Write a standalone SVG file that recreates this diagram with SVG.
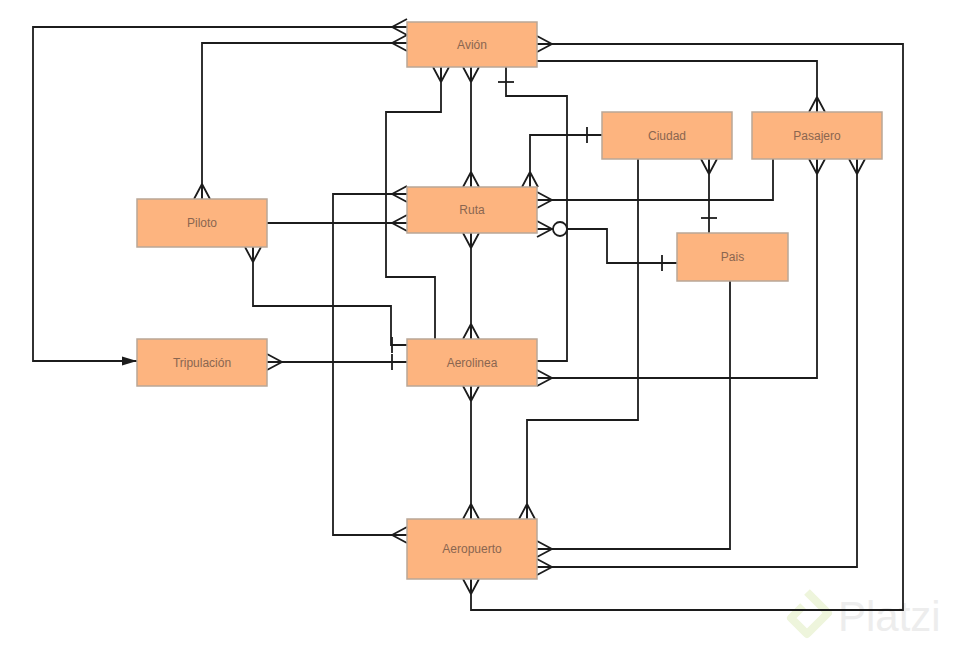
<svg xmlns="http://www.w3.org/2000/svg" width="953" height="648" viewBox="0 0 953 648">
<style>
.n rect{fill:#fdb47f;stroke:#b9a797;stroke-width:1.5}
.n text{font-family:"Liberation Sans",Arial,sans-serif;font-size:12px;fill:#8a6650;text-anchor:middle;dominant-baseline:central}
.c path{fill:none;stroke:#1c1c1c;stroke-width:1.8;stroke-linejoin:miter}
</style>
<defs>
<marker id="crow" markerUnits="userSpaceOnUse" markerWidth="20" markerHeight="20" refX="15" refY="10" orient="auto-start-reverse" overflow="visible">
<path d="M0,10 L15,2 M0,10 L15,10 M0,10 L15,18" fill="none" stroke="#1c1c1c" stroke-width="1.8"/>
</marker>
<marker id="bar" markerUnits="userSpaceOnUse" markerWidth="20" markerHeight="20" refX="16" refY="10" orient="auto-start-reverse" overflow="visible">
<path d="M1,2 L1,18" fill="none" stroke="#1c1c1c" stroke-width="1.8"/>
</marker>
<marker id="ocrow" markerUnits="userSpaceOnUse" markerWidth="32" markerHeight="20" refX="30" refY="10" orient="auto-start-reverse" overflow="visible">
<path d="M15,10 L30,2 M15,10 L30,10 M15,10 L30,18" fill="none" stroke="#1c1c1c" stroke-width="1.8"/>
<circle cx="7" cy="10" r="7" fill="#fff" stroke="#1c1c1c" stroke-width="1.8"/>
</marker>
<marker id="arr" markerUnits="userSpaceOnUse" markerWidth="16" markerHeight="12" refX="15" refY="6" orient="auto" overflow="visible">
<path d="M0,1.5 L15,6 L0,10.5 Z" fill="#1c1c1c"/>
</marker>
</defs>
<rect width="953" height="648" fill="#fff"/>
<g id="watermark">
<path d="M807,592 L828,613 L807,634 L791,618 L803,606" fill="none" stroke="#eef5dc" stroke-width="8" stroke-linejoin="round"/>
<text x="838" y="631" font-family="Liberation Sans,Arial,sans-serif" font-size="42" fill="#ededed">Platzi</text>
</g>
<g id="connectors" class="c">
<path d="M407,27 H33 V361 H137" marker-start="url(#crow)" marker-end="url(#arr)"/>
<path d="M407,43 H202 V199" marker-start="url(#crow)" marker-end="url(#crow)"/>
<path d="M537,44 H903 V610 H471 V579" marker-start="url(#crow)" marker-end="url(#crow)"/>
<path d="M537,61 H817 V112" marker-end="url(#crow)"/>
<path d="M471,67 V187" marker-start="url(#crow)" marker-end="url(#crow)"/>
<path d="M441,67 V112 H386 V277 H435 V339" marker-start="url(#crow)"/>
<path d="M506,67 V96 H567 V361 H537" marker-start="url(#bar)"/>
<path d="M602,135 H530 V187" marker-start="url(#bar)" marker-end="url(#crow)"/>
<path d="M638,159 V420 H527 V519" marker-end="url(#crow)"/>
<path d="M709,159 V233" marker-start="url(#crow)" marker-end="url(#bar)"/>
<path d="M773,159 V200 H537" marker-end="url(#crow)"/>
<path d="M817,159 V378 H537" marker-start="url(#crow)" marker-end="url(#crow)"/>
<path d="M857,159 V567 H537" marker-start="url(#crow)" marker-end="url(#crow)"/>
<path d="M730,281 V549 H537" marker-end="url(#crow)"/>
<path d="M677,263 H607 V229 H537" marker-start="url(#bar)" marker-end="url(#ocrow)"/>
<path d="M407,194 H333 V535 H407" marker-start="url(#crow)" marker-end="url(#crow)"/>
<path d="M407,223 H267" marker-start="url(#crow)"/>
<path d="M253,247 V306 H391 V345 H407" marker-start="url(#crow)" marker-end="url(#bar)"/>
<path d="M267,362 H407" marker-start="url(#crow)" marker-end="url(#bar)"/>
<path d="M471,233 V339" marker-start="url(#crow)" marker-end="url(#crow)"/>
<path d="M471,386 V519" marker-start="url(#crow)" marker-end="url(#crow)"/>
</g>
<g id="avion" class="n"><rect x="407" y="22" width="130" height="45"/><text x="472" y="44.5">Avión</text></g>
<g id="ciudad" class="n"><rect x="602" y="112" width="130" height="47"/><text x="667" y="135.5">Ciudad</text></g>
<g id="pasajero" class="n"><rect x="752" y="112" width="130" height="47"/><text x="817" y="135.5">Pasajero</text></g>
<g id="ruta" class="n"><rect x="407" y="187" width="130" height="46"/><text x="472" y="210">Ruta</text></g>
<g id="piloto" class="n"><rect x="137" y="199" width="130" height="48"/><text x="202" y="223">Piloto</text></g>
<g id="pais" class="n"><rect x="677" y="233" width="111" height="48"/><text x="732.5" y="257">Pais</text></g>
<g id="tripulacion" class="n"><rect x="137" y="339" width="130" height="47"/><text x="202" y="362.5">Tripulación</text></g>
<g id="aerolinea" class="n"><rect x="407" y="339" width="130" height="47"/><text x="472" y="362.5">Aerolinea</text></g>
<g id="aeropuerto" class="n"><rect x="407" y="519" width="130" height="60"/><text x="472" y="549">Aeropuerto</text></g>
</svg>
